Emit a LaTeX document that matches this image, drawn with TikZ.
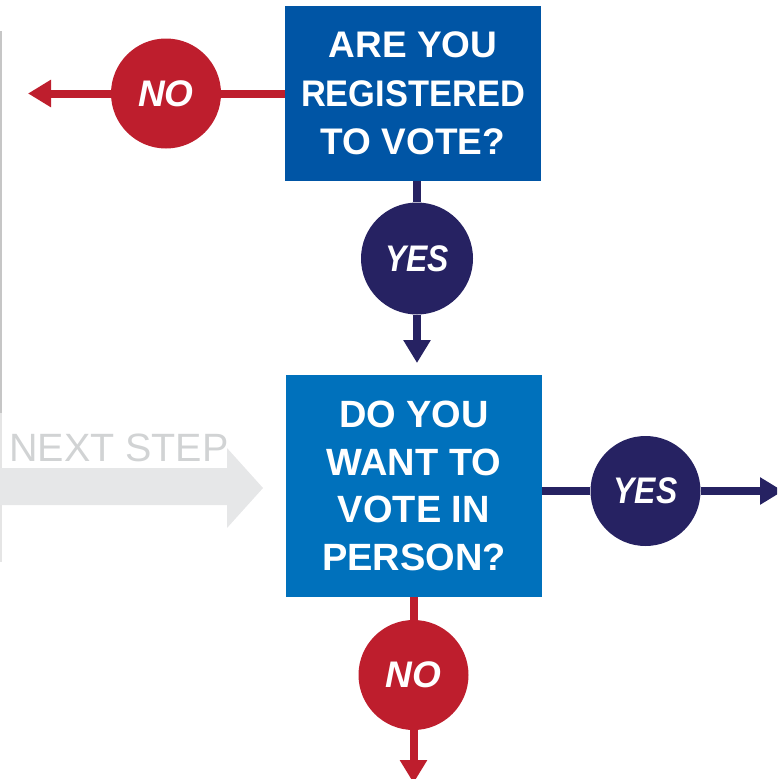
\documentclass[tikz,border=0pt]{standalone}
\usepackage{fontspec}
\setmainfont{Liberation Sans}
\usetikzlibrary{arrows.meta}
\definecolor{regblue}{HTML}{0055A5}
\definecolor{voteblue}{HTML}{0071BC}
\definecolor{nored}{HTML}{BE1E2D}
\definecolor{yesnavy}{HTML}{262262}
\definecolor{stepgray}{HTML}{E6E7E8}
\definecolor{steptext}{HTML}{D1D3D4}
\newcommand{\yestext}{\scalebox{0.86}[1]{YES}}

\tikzset{
	question/.style={rectangle, minimum width=256pt, inner sep=0pt, align=center, text=white,
		font=\fontsize{37}{48.5}\selectfont\bfseries},
	answer/.style={circle, minimum size=110pt, inner sep=0pt, text=white,
		font=\fontsize{37}{37}\selectfont\bfseries\itshape},
	flow/.style={line width=8pt},
	tip/.style={-{Triangle[length=23pt,width=26pt]}}
}

\begin{document}
\begin{tikzpicture}[x=1pt,y=-1pt]
		\useasboundingbox (0,0) rectangle (777,779);
		\clip (0,0) rectangle (777,779);
		
		% page edge
		\draw[gray!45, line width=1.5pt] (0.75,31) -- (0.75,413);
		\draw[gray!20, line width=1.5pt] (0.75,413) -- (0.75,562);
		
		% next step
		\fill[stepgray] (0,468) -- (227,468) -- (227,448) -- (263,488) -- (227,528) -- (227,505) -- (0,505) -- cycle;
		\node[anchor=base west, inner sep=0pt, text=steptext, font=\fontsize{39.5}{39.5}\selectfont] (step) at (9,461) {NEXT STEP};
		
		% questions
		\node[question, fill=regblue, minimum height=175pt] (reg) at (413,93.5) {ARE YOU\\ \scalebox{0.93}[1]{REGISTERED}\\ TO VOTE?};
		\node[question, fill=voteblue, minimum height=222pt, font=\fontsize{38}{47.5}\selectfont\bfseries] (person) at (414,486) {DO YOU\\ WANT TO\\ VOTE IN\\ PERSON?};
		
		% answers
		\node[answer, fill=nored] (no1) at (166,93.5) {NO};
		\node[answer, fill=yesnavy, minimum size=112pt] (yes1) at (417,258.5) {\yestext};
		\node[answer, fill=yesnavy] (yes2) at (645.5,491) {\yestext};
		\node[answer, fill=nored] (no2) at (413.5,675) {NO};
		
		\coordinate (no1end) at (28,93.5);
		\coordinate (yes1end) at (417,363);
		\coordinate (yes2end) at (783,491);
		\coordinate (no2end) at (413.5,783);
		
		% connectors
		\draw[flow, nored] (reg.west) -- (no1.east);
		\draw[flow, nored, tip] (no1.west) -- (no1end);
		\draw[flow, yesnavy] (reg.south -| yes1.north) -- (yes1.north);
		\draw[flow, yesnavy, tip] (yes1.south) -- (yes1end);
		\draw[flow, yesnavy] (person.east |- yes2.west) -- (yes2.west);
		\draw[flow, yesnavy, tip] (yes2.east) -- (yes2end);
		\draw[flow, nored] (person.south -| no2.north) -- (no2.north);
		\draw[flow, nored, tip] (no2.south) -- (no2end);
	\end{tikzpicture}
\end{document}
